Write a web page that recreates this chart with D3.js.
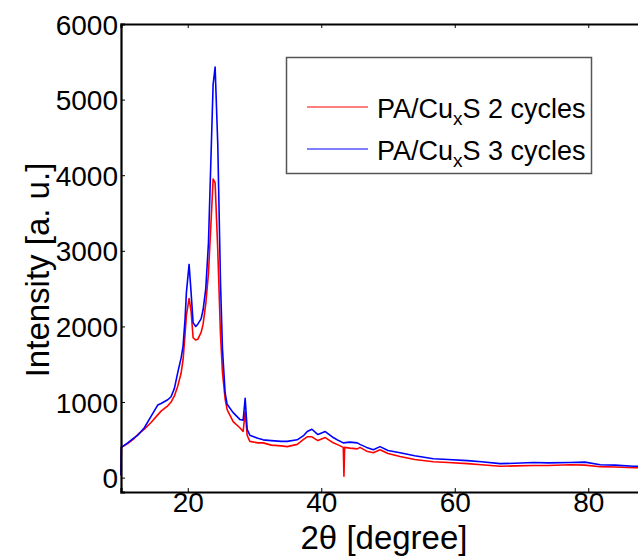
<!DOCTYPE html>
<html>
<head>
  <meta charset="UTF-8">
  <script src="https://d3js.org/d3.v7.min.js"></script>
  <style>
    body { margin: 0; background: #fff; }
    svg { display: block; font-family: "Liberation Sans", Arial, sans-serif; }
  </style>
</head>
<body>
  <svg id="chart" width="638" height="558"></svg>

  <script>
    // 2theta positions (degree)
    const twoTheta2 = [10, 10.05, 11, 12, 12.5, 13.5, 14.5, 15.5, 16, 17, 17.5, 18, 18.5, 19, 19.3, 19.6, 19.8, 20.2, 20.5, 20.8, 21.2, 21.5, 22, 22.3, 22.7, 23.1, 23.5, 23.8, 24.1, 24.5, 24.9, 25.2, 25.6, 25.9, 26.8, 27.8, 28.3, 28.6, 28.9, 29.3, 30.5, 31.3, 32.5, 34, 34.9, 36.4, 37.4, 37.9, 38.6, 39.5, 40.6, 41.8, 42.6, 43.3, 43.4, 43.5, 44.3, 45.4, 45.8, 46.8, 47.8, 48.8, 50, 51.8, 54, 56.8, 59, 61.9, 64, 66.8, 69, 71.8, 74, 77.3, 79.5, 81.8, 84, 86.8, 89];
    const cycles2 = [30, 400, 450, 520, 570, 640, 730, 830, 880, 950, 1000, 1080, 1210, 1380, 1560, 1900, 2150, 2370, 2200, 1850, 1820, 1830, 1920, 2030, 2300, 2700, 3400, 3950, 3900, 3000, 1900, 1390, 1040, 900, 740, 660, 610, 870, 560, 480, 460, 460, 430, 420, 410, 440, 510, 540, 540, 490, 530, 460, 430, 400, 20, 400, 390, 380, 400, 350, 330, 370, 320, 280, 240, 210, 200, 185, 170, 150, 155, 160, 160, 170, 165, 145, 140, 130, 130];

    const twoTheta3 = [10, 10.05, 11, 12, 12.5, 13.5, 14.5, 15.5, 16, 17, 17.5, 18, 18.5, 19, 19.3, 19.6, 19.8, 20.2, 20.5, 20.8, 21.2, 21.5, 22, 22.3, 22.7, 23.1, 23.5, 23.8, 24.1, 24.5, 24.9, 25.2, 25.6, 25.9, 26.8, 27.8, 28.3, 28.6, 28.9, 29.3, 30.5, 31.3, 32.5, 34, 34.9, 36.4, 37.4, 37.9, 38.6, 39.5, 40.6, 41.8, 42.6, 43.3, 44.3, 45.4, 45.8, 46.8, 47.8, 48.8, 50, 51.8, 54, 56.8, 59, 61.9, 64, 66.8, 69, 71.8, 74, 77.3, 79.5, 81.8, 84, 86.8, 89];
    const cycles3 = [30, 400, 460, 530, 560, 660, 810, 960, 980, 1030, 1070, 1180, 1390, 1580, 1740, 2100, 2450, 2820, 2450, 2050, 2000, 2030, 2100, 2220, 2500, 3100, 4300, 5200, 5430, 4400, 2600, 1700, 1120, 970, 860, 770, 760, 1050, 640, 560, 520, 500, 490, 480, 480, 500, 560, 610, 640, 570, 610, 530, 490, 460, 470, 460, 440, 400, 370, 410, 360, 330, 290, 250, 240, 225, 210, 185, 190, 200, 195, 200, 205, 170, 165, 150, 150];

    const seriesNames = ["2 cycles", "3 cycles"];
    const seriesColors = ["#ff0000", "#0000ff"];
    const xTicks = [20, 40, 60, 80];
    const yTicks = [0, 1000, 2000, 3000, 4000, 5000, 6000];

    const svg = d3.select("#chart");

    // plot area runs past the right edge of the picture
    const x = d3.scaleLinear().domain([10, 90]).range([121, 655]);
    const y = d3.scaleLinear().domain([-190, 6000]).range([492, 24]);

    const line = d3.line()
      .x(d => x(d[0]))
      .y(d => y(d[1]));

    const data = [
      d3.zip(twoTheta2, cycles2),
      d3.zip(twoTheta3, cycles3)
    ];

    // curves, red first then blue on top
    svg.append("g")
      .selectAll("path")
      .data(data)
      .enter()
      .append("path")
      .attr("d", line)
      .attr("fill", "none")
      .attr("stroke", (d, i) => seriesColors[i])
      .attr("stroke-width", 1.6)
      .attr("stroke-linejoin", "round");

    // bottom axis
    const xAxis = svg.append("g")
      .attr("transform", "translate(0," + y.range()[0] + ")")
      .call(d3.axisBottom(x).tickValues(xTicks).tickSize(-4).tickPadding(0).tickFormat(d3.format("d")));

    // top axis, ticks only
    const xTop = svg.append("g")
      .attr("transform", "translate(0," + y.range()[1] + ")")
      .call(d3.axisTop(x).tickValues(xTicks).tickSize(-4).tickFormat(""));

    // left axis
    const yAxis = svg.append("g")
      .attr("transform", "translate(" + x.range()[0] + ",0)")
      .call(d3.axisLeft(y).tickValues(yTicks).tickSize(-4).tickPadding(3).tickFormat(d3.format("d")));

    [xAxis, xTop, yAxis].forEach(g => {
      g.select(".domain").attr("stroke", "#000").attr("stroke-width", 2.2);
      g.selectAll(".tick line").attr("stroke", "#000").attr("stroke-width", 1);
      g.selectAll(".tick text")
        .attr("fill", "#000")
        .style("font-size", "28px")
        .style("font-family", "'Liberation Sans', Arial, sans-serif");
    });
    xAxis.selectAll(".tick text").attr("dy", "0.72em");
    yAxis.selectAll(".tick text").attr("dy", "0.36em");

    // axis titles
    svg.append("text")
      .attr("x", 384)
      .attr("y", 549)
      .attr("text-anchor", "middle")
      .style("font-size", "33px")
      .text("2θ [degree]");

    svg.append("text")
      .attr("transform", "translate(49,270) rotate(-90)")
      .attr("text-anchor", "middle")
      .style("font-size", "33px")
      .text("Intensity [a. u.]");

    // legend
    const legend = svg.append("g");
    legend.append("rect")
      .attr("x", 286.5)
      .attr("y", 57.5)
      .attr("width", 305)
      .attr("height", 116)
      .attr("fill", "#fff")
      .attr("stroke", "#555")
      .attr("stroke-width", 1.5);

    const items = legend.selectAll("g.item")
      .data(seriesNames)
      .enter()
      .append("g")
      .attr("class", "item")
      .attr("transform", (d, i) => "translate(0," + (107 + i * 42) + ")");

    items.append("line")
      .attr("x1", 307)
      .attr("x2", 368)
      .attr("stroke", (d, i) => seriesColors[i])
      .attr("stroke-width", 1.2);

    const label = items.append("text")
      .attr("x", 377)
      .attr("y", 11)
      .style("font-size", "27px");
    label.append("tspan").text("PA/Cu");
    label.append("tspan").attr("dy", 7).style("font-size", "19px").text("x");
    label.append("tspan").attr("dy", -7).text(d => "S " + d);
  </script>
</body>
</html>
